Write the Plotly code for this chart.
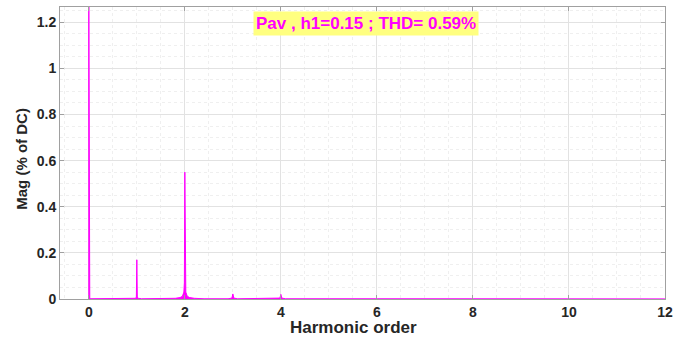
import plotly.graph_objects as go

# Harmonic spectrum
harmonic_order = [0.0, 0.0, 0.02, 0.9, 0.97, 0.99, 1.0, 1.01, 1.03, 1.1,
                  1.6, 1.8, 1.9, 1.95, 1.98, 1.99, 2.0, 2.01, 2.02, 2.05, 2.1, 2.2, 2.4,
                  2.9, 2.98, 3.0, 3.02, 3.1, 3.9, 3.98, 4.0, 4.02, 4.1,
                  4.98, 5.0, 5.02, 12.0]
magnitude = [0.0, 1.30, 0.001, 0.001, 0.003, 0.008, 0.17, 0.008, 0.003, 0.001,
             0.001, 0.003, 0.006, 0.012, 0.03, 0.07, 0.55, 0.07, 0.03, 0.012, 0.006, 0.003, 0.001,
             0.001, 0.004, 0.022, 0.004, 0.001, 0.001, 0.004, 0.02, 0.004, 0.001,
             0.001, 0.004, 0.001, 0.0005]

x_ticks = [0, 2, 4, 6, 8, 10, 12]
y_ticks = [0, 0.2, 0.4, 0.6, 0.8, 1.0, 1.2]
y_tick_labels = ["0", "0.2", "0.4", "0.6", "0.8", "1", "1.2"]
title_text = "Pav , h1=0.15 ; THD= 0.59%"

FONT = "Liberation Sans, Arial, sans-serif"

fig = go.Figure()
fig.add_trace(go.Scatter(x=harmonic_order, y=magnitude, mode="lines",
                         line=dict(color="#ff00ff", width=1),
                         fill="tozeroy", fillcolor="#ff00ff",
                         showlegend=False, hoverinfo="skip"))

axis_common = dict(showline=True, linecolor="#a0a0a0", linewidth=1, mirror="ticks",
                   ticks="inside", ticklen=4, tickcolor="#a0a0a0",
                   gridcolor="#e2e2e2", gridwidth=1, zeroline=False,
                   tickfont=dict(family=FONT, size=14, color="#262626", weight="bold"))

fig.update_xaxes(range=[-0.6, 12], tickvals=x_ticks,
                 minor=dict(dtick=0.5, showgrid=True, gridcolor="#efefef", griddash="dot"),
                 **axis_common)
fig.update_yaxes(range=[0, 1.266], tickvals=y_ticks, ticktext=y_tick_labels,
                 minor=dict(dtick=0.05, showgrid=True, gridcolor="#efefef", griddash="dot"),
                 **axis_common)

fig.add_annotation(text="<b>" + title_text + "</b>", xref="paper", yref="paper",
                   x=0.506, y=0.943, xanchor="center", yanchor="middle", showarrow=False,
                   bgcolor="#ffff80", borderpad=2,
                   font=dict(family=FONT, size=17, color="#ff00ff"))
fig.add_annotation(text="<b>Harmonic order</b>", xref="paper", yref="paper",
                   x=0.485, y=-0.058, xanchor="center", yanchor="top", showarrow=False,
                   font=dict(family=FONT, size=17, color="#262626"))
fig.add_annotation(text="<b>Mag (% of DC)</b>", xref="paper", yref="paper",
                   x=-0.063, y=0.48, xanchor="center", yanchor="middle", showarrow=False,
                   textangle=-90,
                   font=dict(family=FONT, size=15, color="#262626"))

fig.update_layout(width=675, height=339,
                  margin=dict(l=60, r=10, t=7, b=40, autoexpand=False),
                  paper_bgcolor="white", plot_bgcolor="white")

fig.write_html("out.html", config={"displayModeBar": False},
               post_script="document.body.style.margin='0';document.body.style.padding='0';")
